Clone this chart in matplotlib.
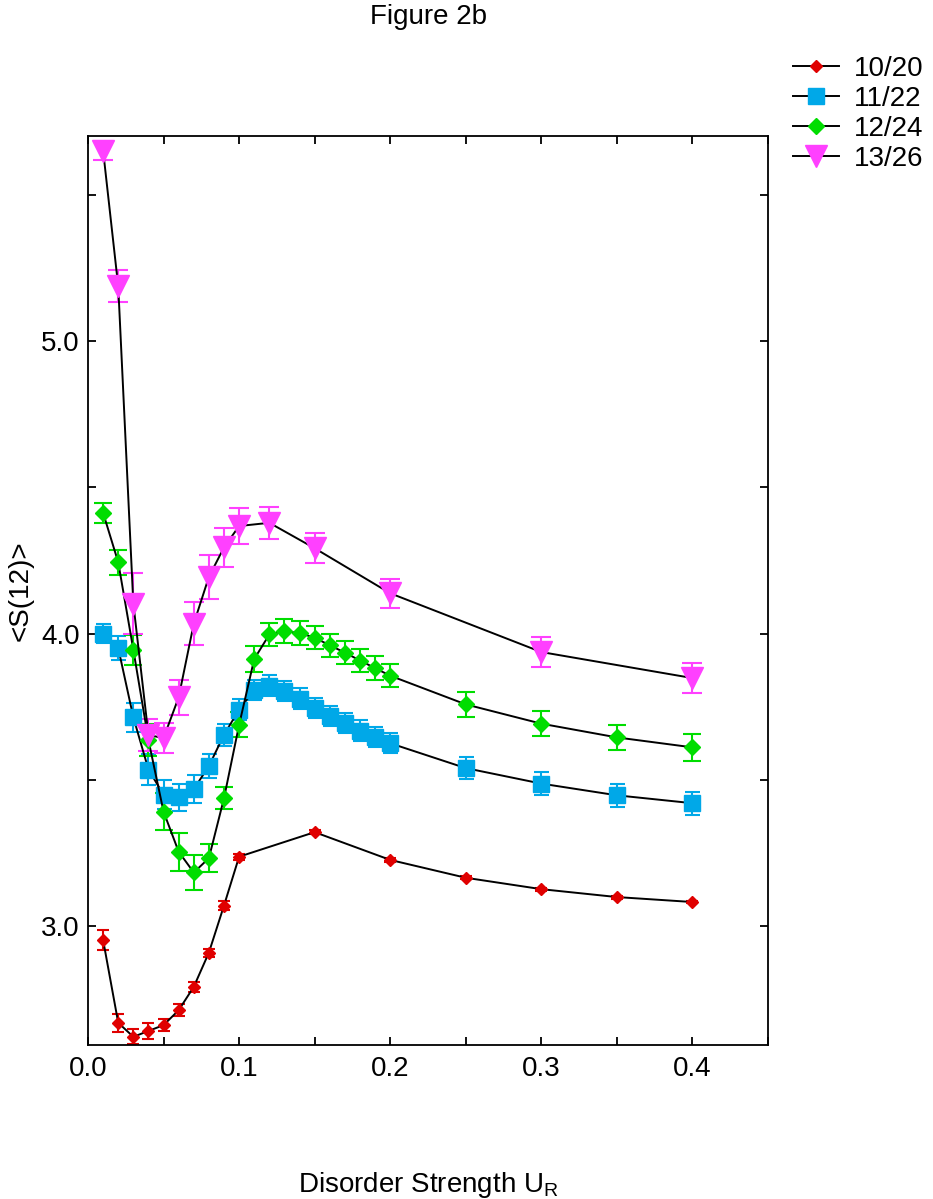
import numpy as np
import matplotlib
matplotlib.use('Agg')
import matplotlib.pyplot as plt
from matplotlib.ticker import MultipleLocator

plt.rcParams['font.family'] = ['Liberation Sans', 'DejaVu Sans']
plt.rcParams['mathtext.fontset'] = 'custom'
plt.rcParams['mathtext.rm'] = 'Liberation Sans'

## disorder strength values
x_10 = [0.01, 0.02, 0.03, 0.04, 0.05, 0.06, 0.07, 0.08, 0.09, 0.10,
        0.15, 0.20, 0.25, 0.30, 0.35, 0.40]
x_11 = [0.01, 0.02, 0.03, 0.04, 0.05, 0.06, 0.07, 0.08, 0.09, 0.10,
        0.11, 0.12, 0.13, 0.14, 0.15, 0.16, 0.17, 0.18, 0.19, 0.20,
        0.25, 0.30, 0.35, 0.40]
x_12 = x_11
x_13 = [0.01, 0.02, 0.03, 0.04, 0.05, 0.06, 0.07, 0.08, 0.09, 0.10,
        0.12, 0.15, 0.20, 0.30, 0.40]

## <S(12)> values
y_10 = [2.952, 2.669, 2.621, 2.641, 2.661, 2.712, 2.792, 2.909, 3.070, 3.237,
        3.321, 3.226, 3.165, 3.126, 3.099, 3.082]
y_11 = [4.000, 3.951, 3.714, 3.535, 3.449, 3.440, 3.468, 3.547, 3.654, 3.740,
        3.807, 3.822, 3.804, 3.778, 3.746, 3.719, 3.694, 3.668, 3.646, 3.625,
        3.540, 3.487, 3.447, 3.420]
y_12 = [4.413, 4.244, 3.945, 3.636, 3.391, 3.254, 3.183, 3.232, 3.437, 3.688,
        3.913, 3.997, 4.008, 4.002, 3.986, 3.960, 3.935, 3.908, 3.882, 3.856,
        3.758, 3.692, 3.645, 3.611]
y_13 = [5.652, 5.188, 4.103, 3.653, 3.643, 3.782, 4.034, 4.194, 4.295, 4.368,
        4.379, 4.292, 4.138, 3.937, 3.848]

## error bars
e_10 = [0.033, 0.030, 0.026, 0.026, 0.021, 0.020, 0.018, 0.014, 0.014, 0.010,
        0.006, 0.006, 0.005, 0.005, 0.005, 0.005]
e_11 = [0.033, 0.040, 0.050, 0.053, 0.050, 0.047, 0.048, 0.040, 0.038, 0.036,
        0.035, 0.035, 0.035, 0.035, 0.035, 0.035, 0.035, 0.035, 0.035, 0.035,
        0.037, 0.039, 0.040, 0.040]
e_12 = [0.035, 0.043, 0.051, 0.055, 0.064, 0.065, 0.061, 0.049, 0.037, 0.043,
        0.043, 0.041, 0.041, 0.041, 0.040, 0.040, 0.040, 0.040, 0.040, 0.040,
        0.042, 0.043, 0.044, 0.045]
e_13 = [0.033, 0.055, 0.104, 0.054, 0.050, 0.060, 0.073, 0.075, 0.067, 0.061,
        0.055, 0.051, 0.050, 0.050, 0.050]

labels = ['10/20', '11/22', '12/24', '13/26']


def draw_series(ax, x, y, e, color, marker, ms, capsize, label):
    ax.errorbar(x, y, yerr=e, fmt='none', ecolor=color, elinewidth=1.5,
                capsize=capsize, capthick=1.5, zorder=2)
    h, = ax.plot(x, y, color='black', lw=1.4, marker=marker, ms=ms,
                 markerfacecolor=color, markeredgecolor=color, label=label,
                 zorder=3)
    return h


def main():
    fig = plt.figure(figsize=(9.33, 11.99), dpi=100)
    ax = fig.add_axes([88/933, 1-1045/1199, 680/933, (1045-135.7)/1199])

    handles = []
    handles.append(draw_series(ax, x_10, y_10, e_10, '#e00000', 'D', 6, 4.3, labels[0]))
    handles.append(draw_series(ax, x_11, y_11, e_11, '#00a8e8', 's', 11, 5.4, labels[1]))
    handles.append(draw_series(ax, x_12, y_12, e_12, '#00dd00', 'D', 8.5, 6.5, labels[2]))
    handles.append(draw_series(ax, x_13, y_13, e_13, '#ff40ff', 'v', 16, 7.2, labels[3]))

    ax.set_xlim(0, 0.45)
    ax.set_ylim(2.593, 5.703)
    ax.xaxis.set_major_locator(MultipleLocator(0.1))
    ax.xaxis.set_minor_locator(MultipleLocator(0.05))
    ax.yaxis.set_major_locator(MultipleLocator(1.0))
    ax.yaxis.set_minor_locator(MultipleLocator(0.5))
    ax.xaxis.set_major_formatter(plt.FormatStrFormatter('%.1f'))
    ax.yaxis.set_major_formatter(plt.FormatStrFormatter('%.1f'))
    ax.tick_params(which='both', direction='in', top=True, right=True,
                   width=1.3, labelsize=20)
    ax.tick_params(which='major', length=6)
    ax.tick_params(which='minor', length=6)
    ax.tick_params(axis='x', pad=8)
    ax.tick_params(axis='y', pad=6)
    for s in ax.spines.values():
        s.set_linewidth(1.3)

    ax.set_xlabel('Disorder Strength U$_{\\mathrm{R}}$', fontsize=20)
    ax.xaxis.set_label_coords(0.5, -0.137)
    ax.set_ylabel('<S(12)>', fontsize=20)
    ax.yaxis.set_label_coords(-0.08, 0.5)

    fig.text(428/933, 1-4/1199, 'Figure 2b', fontsize=20, ha='center', va='top')

    ax.legend(handles=handles, loc='upper left', bbox_to_anchor=(793/933, 1-56/1199),
              bbox_transform=fig.transFigure, frameon=False, fontsize=20,
              handlelength=1.65, handletextpad=0.55, labelspacing=0.14,
              borderpad=0, borderaxespad=0)

    fig.savefig('out.png', dpi=100)


if __name__ == '__main__':
    main()
